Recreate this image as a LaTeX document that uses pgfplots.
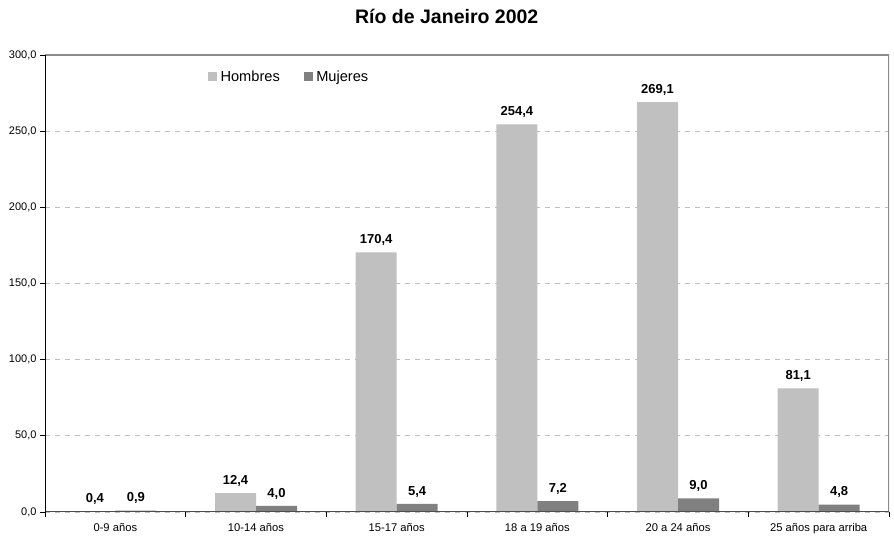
\documentclass[border=0pt]{standalone}
\usepackage{fontspec}
\setmainfont{Liberation Sans}
\usepackage{pgfplots}
\pgfplotsset{compat=1.18}
\definecolor{hombres}{HTML}{C0C0C0}
\definecolor{mujeres}{HTML}{808080}
\begin{document}
\begin{tikzpicture}
\path[use as bounding box] (-45pt,-25pt) rectangle (849pt,512pt);
\begin{axis}[
  at={(0pt,0pt)}, anchor=south west,
  scale only axis, width=844pt, height=457pt,
  ybar=0pt, bar width=41pt,
  xmin=-0.5, xmax=5.5, ymin=0, ymax=300,
  enlargelimits=false,
  axis line style={draw=none},
  tick pos=left, tick align=outside,
  major tick length=5pt,
  tick style={black, line width=0.8pt},
  xtick={-0.5,0.5,1.5,2.5,3.5,4.5},
  xticklabels={0-9 años,10-14 años,15-17 años,18 a 19 años,20 a 24 años,25 años para arriba},
  xticklabel style={xshift=70.33pt, yshift=-3pt, font=\fontsize{11.2}{11.2}\selectfont},
  extra x ticks={5.5}, extra x tick labels={},
  ytick={0,50,...,300},
  yticklabel style={font=\fontsize{11}{11}\selectfont},
  ymajorgrids,
  major grid style={dash pattern=on 5pt off 5pt, color=black!25, line width=0.8pt},
  /pgf/number format/fixed,
  /pgf/number format/fixed zerofill,
  /pgf/number format/precision=1,
  /pgf/number format/use comma,
  /pgf/number format/assume math mode=true,
  nodes near coords,
  every node near coord/.append style={font=\bfseries\fontsize{13}{13}\selectfont, inner sep=0pt, yshift=6.5pt, black},
  title={Río de Janeiro 2002},
  title style={font=\bfseries\fontsize{19.5}{19.5}\selectfont, at={(axis description cs:0.476,1)}, anchor=base, yshift=25pt},
  legend style={at={(axis description cs:0.193,0.952)}, anchor=west, draw=none, fill=none,
    font=\fontsize{14.6}{14.6}\selectfont, inner sep=0pt,
    /tikz/every odd column/.append style={column sep=1.5pt},
    /tikz/every even column/.append style={column sep=22pt}},
  legend columns=2, legend cell align=left,
]
\addplot[fill=hombres, draw=none,
  legend image code/.code={\path[fill=hombres] (0pt,-4.5pt) rectangle (9pt,4.5pt);}]
  coordinates {(0,0.4) (1,12.4) (2,170.4) (3,254.4) (4,269.1) (5,81.1)};
\addlegendentry{Hombres}
\addplot[fill=mujeres, draw=none,
  legend image code/.code={\path[fill=mujeres] (0pt,-4.5pt) rectangle (9pt,4.5pt);}]
  coordinates {(0,0.9) (1,4.0) (2,5.4) (3,7.2) (4,9.0) (5,4.8)};
\addlegendentry{Mujeres}
\draw[color=black!45, line width=1.3pt] (rel axis cs:0,1) -- (rel axis cs:1,1) -- (rel axis cs:1,0);
\draw[color=black!70, line width=1.6pt] (rel axis cs:0,0) -- (rel axis cs:1,0);
\draw[black, line width=1pt] (rel axis cs:0,0) -- (rel axis cs:0,1);
\end{axis}
\end{tikzpicture}
\end{document}
